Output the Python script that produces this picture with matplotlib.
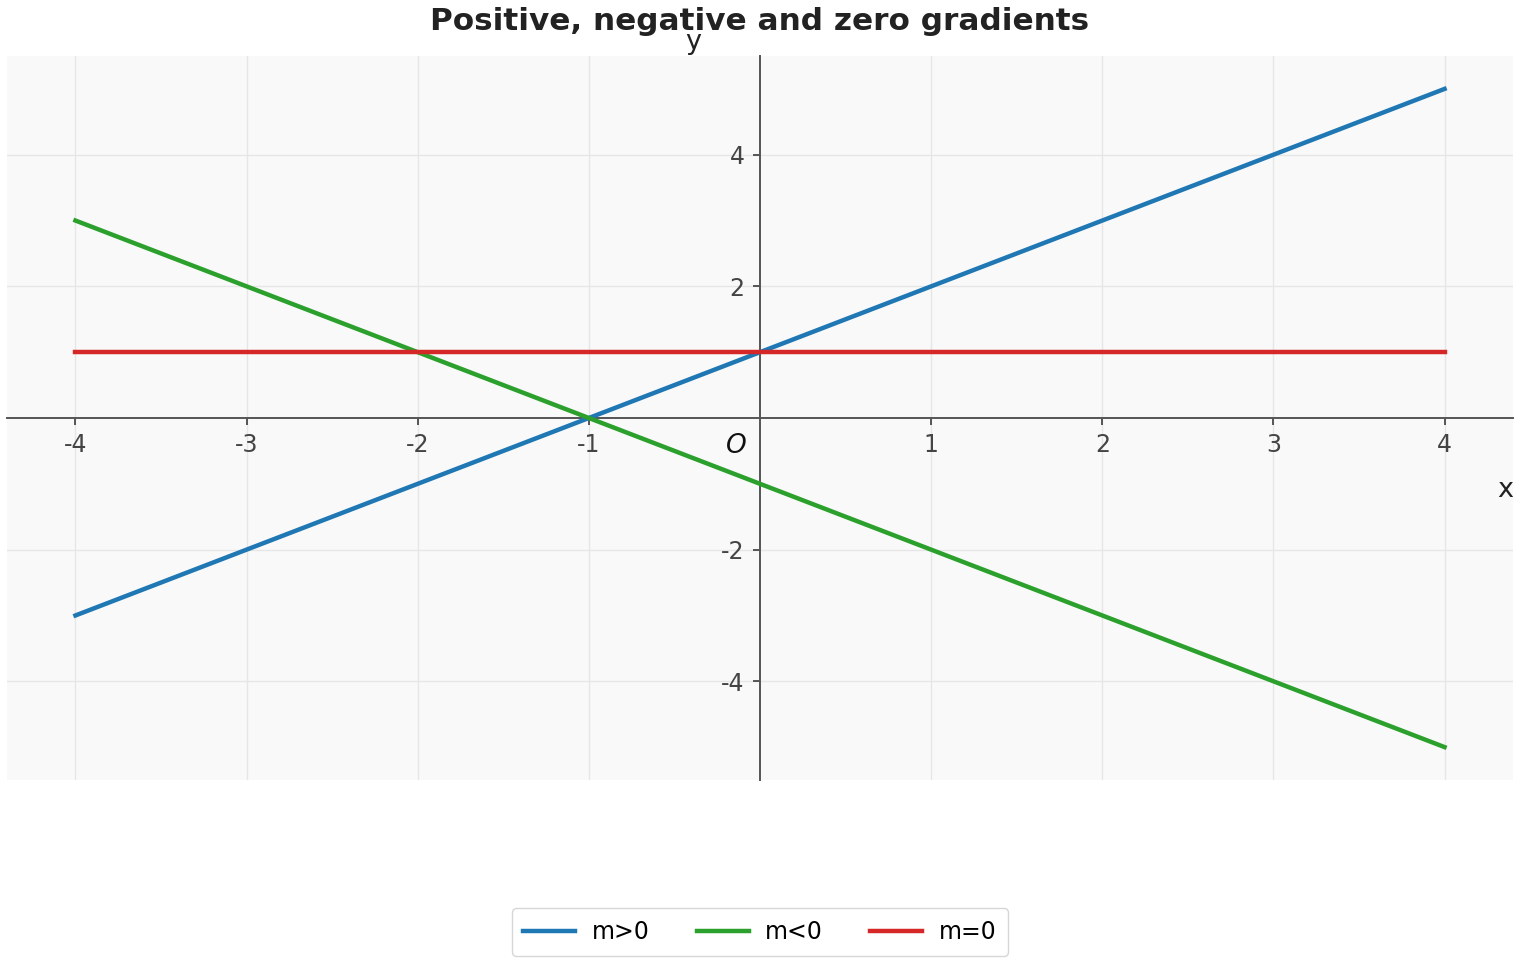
import matplotlib
matplotlib.use("Agg")
import matplotlib.pyplot as plt
import numpy as np

x_vals = [-4, 4]
pos_vals = [-3, 5]
neg_vals = [3, -5]
zero_vals = [1, 1]
labels = ["m>0", "m<0", "m=0"]
colors = ["#1f77b4", "#2ca02c", "#d62728"]
xticks = [-4, -3, -2, -1, 1, 2, 3, 4]
yticks = [-4, -2, 2, 4]

fig = plt.figure(figsize=(15.2, 9.6), dpi=100)
ax = fig.add_axes([7/1520, 1-780/960, 1506/1520, 724/960])
ax.set_facecolor("#f9f9f9")

for ys, lab, c in zip([pos_vals, neg_vals, zero_vals], labels, colors):
    ax.plot(x_vals, ys, color=c, lw=3.2, label=lab, zorder=3)

ax.set_xlim(-4.4, 4.4)
ax.set_ylim(-5.5, 5.5)
ax.spines["left"].set_position(("data", 0))
ax.spines["bottom"].set_position(("data", 0))
ax.spines["right"].set_visible(False)
ax.spines["top"].set_visible(False)
for s in ["left", "bottom"]:
    ax.spines[s].set_color("#555555")
    ax.spines[s].set_linewidth(1.4)
ax.set_xticks(xticks)
ax.set_yticks(yticks)
ax.set_xticklabels([str(v) for v in xticks])
ax.set_yticklabels([str(v) for v in yticks])
ax.tick_params(axis="both", colors="#555555", labelcolor="#444444", labelsize=17,
               length=5, width=1.4, pad=6)
ax.grid(True, color="#e6e6e6", lw=1)
ax.set_axisbelow(True)

ax.text(-0.08, -0.42, "O", style="italic", fontsize=19, ha="right", va="center", color="#111111")
fig.text(1505/1520, 1-490/960, "x", fontsize=19.5, ha="center", va="center", color="#222222")
fig.text(693/1520, 1-42/960, "y", fontsize=19.5, ha="center", va="center", color="#222222")
fig.text(0.5, 1-21/960, "Positive, negative and zero gradients", fontsize=22.4, fontweight="bold",
         ha="center", va="center", color="#222222")

leg = fig.legend(loc="center", bbox_to_anchor=(0.5, 1-932/960), ncol=3, fontsize=17,
                 frameon=True, columnspacing=2.0, handlelength=2.2, handletextpad=0.7,
                 borderpad=0.5)
leg.get_frame().set_edgecolor("#cccccc")

fig.savefig("out.png", dpi=100)
